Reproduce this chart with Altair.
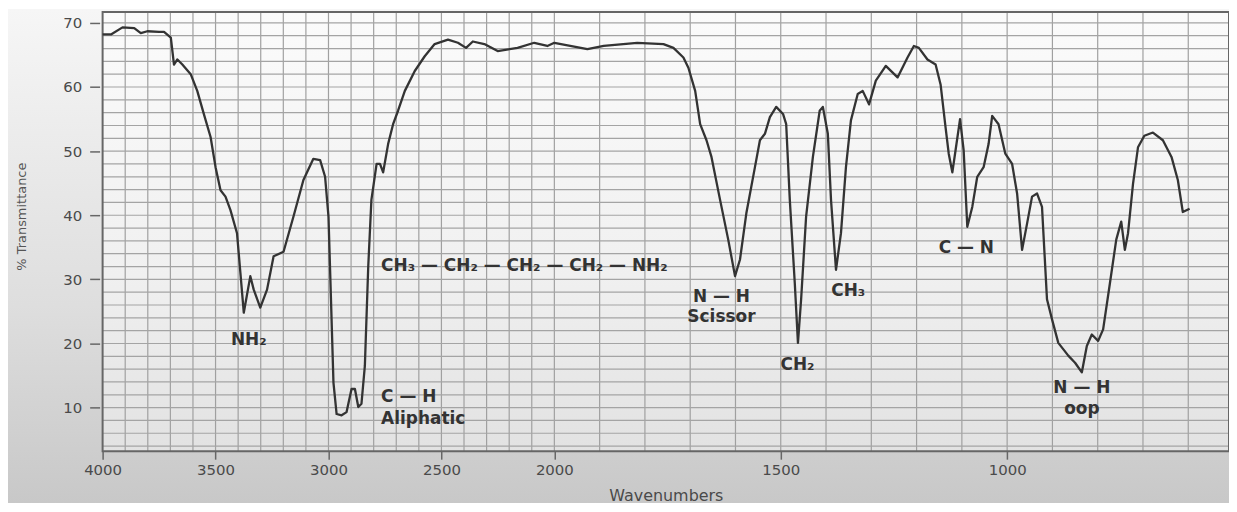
import altair as alt
import pandas as pd

# ---- spectrum ----
wavenumber = [4000, 3963, 3912, 3860, 3831, 3802, 3750, 3728, 3698, 3684, 3669, 3647, 3610, 3581,
              3552, 3522, 3500, 3478, 3456, 3434, 3405, 3390, 3375, 3346, 3331, 3302, 3272, 3243,
              3199, 3155, 3111, 3067, 3037, 3015, 3000, 2989, 2978, 2964, 2942, 2920, 2898, 2883,
              2868, 2854, 2839, 2824, 2810, 2787, 2772, 2758, 2736, 2714, 2692, 2662, 2618, 2574,
              2530, 2471, 2427, 2391, 2361, 2310, 2251, 2163, 2089, 2031, 2000, 1927, 1891, 1817,
              1759, 1737, 1715, 1704, 1689, 1678, 1664, 1653, 1634, 1616, 1601, 1590, 1576, 1557,
              1546, 1535, 1524, 1510, 1495, 1488, 1480, 1469, 1462, 1455, 1444, 1429, 1414, 1407,
              1396, 1389, 1378, 1367, 1356, 1345, 1330, 1319, 1305, 1290, 1268, 1242, 1220, 1206,
              1195, 1176, 1158, 1147, 1136, 1129, 1121, 1114, 1104, 1096, 1088, 1077, 1066, 1052,
              1041, 1033, 1019, 1004, 989, 978, 967, 956, 945, 934, 923, 912, 901, 887, 865, 850,
              835, 824, 813, 799, 788, 773, 759, 748, 740, 733, 722, 711, 697, 678, 656, 637, 623,
              612, 597]
transmittance = [68.2, 68.2, 69.3, 69.2, 68.4, 68.7, 68.6, 68.6, 67.7, 63.5, 64.3, 63.5, 62.0, 59.4,
                 55.8, 52.2, 47.5, 43.9, 42.9, 40.8, 37.2, 31.0, 24.8, 30.5, 28.4, 25.6, 28.4, 33.6,
                 34.3, 39.8, 45.5, 48.8, 48.6, 46.0, 39.8, 26.9, 13.9, 9.0, 8.8, 9.3, 12.9, 12.9,
                 10.1, 10.6, 16.5, 32.0, 42.4, 48.0, 48.0, 46.7, 51.1, 54.2, 56.3, 59.4, 62.5, 64.8,
                 66.7, 67.4, 66.9, 66.1, 67.1, 66.7, 65.6, 66.1, 66.9, 66.4, 66.9, 65.9, 66.4, 66.9,
                 66.7, 66.1, 64.6, 63.0, 59.4, 54.2, 51.7, 49.1, 42.4, 36.2, 30.5, 33.1, 40.3, 47.5,
                 51.7, 52.7, 55.3, 56.9, 55.8, 54.2, 42.4, 29.4, 20.1, 26.9, 39.8, 49.1, 56.3, 56.9,
                 52.7, 42.4, 31.5, 37.2, 47.5, 54.8, 58.9, 59.4, 57.3, 61.0, 63.3, 61.5, 64.6, 66.4,
                 66.1, 64.3, 63.5, 60.4, 53.7, 49.6, 46.7, 50.1, 55.0, 50.1, 38.2, 41.3, 46.0, 47.5,
                 51.1, 55.5, 54.2, 49.6, 48.0, 43.4, 34.6, 38.7, 42.9, 43.4, 41.3, 26.9, 23.8, 20.1,
                 18.1, 17.0, 15.5, 19.6, 21.4, 20.4, 22.2, 29.4, 36.2, 39.0, 34.6, 37.2, 44.9, 50.6,
                 52.4, 52.9, 51.7, 49.1, 45.5, 40.5, 41.0]

# ---- axes ----
x_domain = [4000, 2000, 510]
x_ticks = [4000, 3500, 3000, 2500, 2000, 1500, 1000]
y_domain = [3.2, 71.7]
y_ticks = [10, 20, 30, 40, 50, 60, 70]
x_grid = list(range(600, 4000, 100))
y_grid = list(range(4, 72, 2))

# ---- annotations ----
left_text = ["CH₃ — CH₂ — CH₂ — CH₂ — NH₂", "C — H", "Aliphatic"]
left_x = [2767, 2767, 2767]
left_y = [32.1, 11.7, 8.2]
center_text = ["NH₂", "N — H", "Scissor", "CH₂", "CH₃", "C — N", "N — H", "oop"]
center_x = [3353, 1631, 1631, 1463, 1351, 1090, 835, 835]
center_y = [20.5, 27.3, 24.2, 16.6, 28.2, 34.9, 13.0, 9.8]

W, H = 1131, 441
FONT = "DejaVu Sans"

spec_df = pd.DataFrame({"wn": wavenumber, "t": transmittance})
left_df = pd.DataFrame({"wn": left_x, "t": left_y, "label": left_text})
center_df = pd.DataFrame({"wn": center_x, "t": center_y, "label": center_text})

xs = alt.Scale(domain=x_domain, range=[0, 453.6, W])
ys = alt.Scale(domain=y_domain, nice=False, zero=False)

x_axis = alt.Axis(values=x_ticks, format="d", title="Wavenumbers", grid=False, domain=False,
                  labelFlush=False, tickSize=8, tickWidth=1.5, tickColor="#666666",
                  labelPadding=3, labelFontSize=15, labelColor="#4a4a4a", labelFont=FONT,
                  titleFont=FONT, titleFontSize=16, titleFontWeight="normal",
                  titleColor="#4a4a4a", titlePadding=11, zindex=1)
y_axis = alt.Axis(values=y_ticks, format="d", title="% Transmittance", grid=False, domain=False,
                  labelFlush=False, offset=3, tickSize=10, tickWidth=1.5,
                  tickColor="#666666", labelPadding=8, labelFontSize=15,
                  labelColor="#4a4a4a", labelFont=FONT, titleFont=FONT,
                  titleFontSize=13, titleFontWeight="normal", titleColor="#555555",
                  titleX=-78, titleY=205, titleBaseline="middle", zindex=1)

one = alt.Data(values=[{}])

outer_bg = alt.Chart(one).mark_rect(
    color=alt.LinearGradient(gradient="linear", x1=0, x2=0, y1=0, y2=1,
                             stops=[alt.GradientStop(color="#f6f6f6", offset=0),
                                    alt.GradientStop(color="#dedede", offset=0.6),
                                    alt.GradientStop(color="#c8c8c8", offset=1)])
).encode(x=alt.value(-95), x2=alt.value(W), y=alt.value(-3), y2=alt.value(H + 52))

inner_bg = alt.Chart(one).mark_rect(
    color=alt.LinearGradient(gradient="linear", x1=0, x2=0, y1=0, y2=1,
                             stops=[alt.GradientStop(color="#fbfbfb", offset=0),
                                    alt.GradientStop(color="#f0f0f0", offset=0.6),
                                    alt.GradientStop(color="#e2e2e2", offset=1)])
).encode(x=alt.value(0), x2=alt.value(W), y=alt.value(0), y2=alt.value(H))

vgrid = alt.Chart(pd.DataFrame({"g": x_grid})).mark_rule(color="#a0a0a0", strokeWidth=1.2).encode(
    x=alt.X("g:Q", scale=xs, axis=x_axis))
hgrid = alt.Chart(pd.DataFrame({"g": y_grid})).mark_rule(color="#a4a4a4", strokeWidth=1.2).encode(
    y=alt.Y("g:Q", scale=ys, axis=y_axis))

frame = alt.Chart(one).mark_rect(fillOpacity=0, stroke="#666666", strokeWidth=2).encode(
    x=alt.value(0), x2=alt.value(W), y=alt.value(0), y2=alt.value(H))

line = alt.Chart(spec_df).mark_line(color="#333333", strokeWidth=2.3, strokeJoin="round").encode(
    x=alt.X("wn:Q", scale=xs, axis=x_axis),
    y=alt.Y("t:Q", scale=ys, axis=y_axis),
    order="wn:Q")

text_left = alt.Chart(left_df).mark_text(align="left", baseline="middle", font=FONT,
                                         fontSize=17, fontWeight="bold", color="#333333").encode(
    x=alt.X("wn:Q", scale=xs, axis=x_axis), y=alt.Y("t:Q", scale=ys, axis=y_axis), text="label:N")
text_center = alt.Chart(center_df).mark_text(align="center", baseline="middle", font=FONT,
                                             fontSize=17, fontWeight="bold", color="#333333").encode(
    x=alt.X("wn:Q", scale=xs, axis=x_axis), y=alt.Y("t:Q", scale=ys, axis=y_axis), text="label:N")

chart = alt.layer(outer_bg, inner_bg, vgrid, hgrid, frame, line, text_left, text_center).properties(
    width=W, height=H,
    padding={"left": 95, "top": 3, "right": 0, "bottom": 52},
    autosize=alt.AutoSizeParams(type="none"),
    background="#ffffff",
).configure_view(strokeWidth=0)

chart.save("out.html", embed_options={"renderer": "svg", "actions": False})
